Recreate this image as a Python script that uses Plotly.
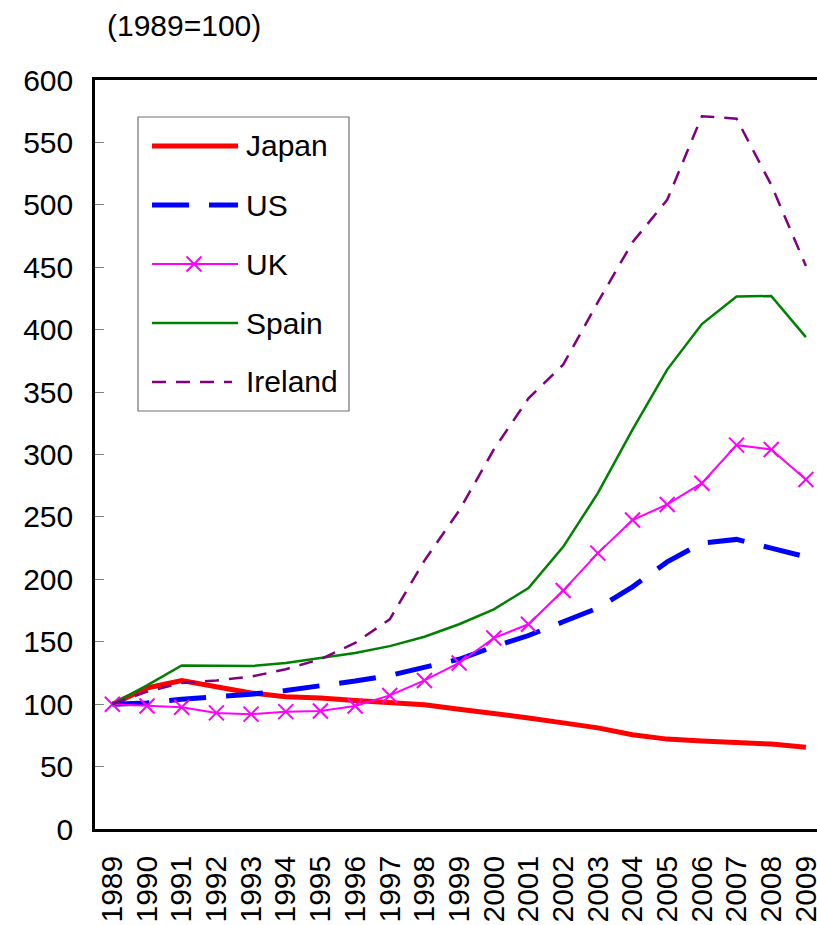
import plotly.graph_objects as go

years = [str(y) for y in range(1989, 2010)]
japan = [100, 113, 119, 114, 109, 106, 105, 103, 101, 99.5, 96, 93, 89, 85, 81, 75.5, 72, 70.5, 69.5, 68, 65.5]
us = [100, 101, 104, 106, 108, 111, 114.5, 118.5, 123, 129, 136, 146, 155, 166, 177, 194, 214, 229, 232, 225, 218]
uk = [100, 98.5, 97.5, 93, 92, 94, 94.5, 98.5, 107, 119, 133, 153, 164, 191, 221, 247.5, 260, 277, 307.5, 304, 280]
spain = [100, 115, 131, 130.5, 130.5, 133, 137, 141, 146.5, 154, 164, 176, 193, 226, 269, 320, 368, 404.5, 426.5, 427, 394]
ireland = [100, 110, 117, 119, 122, 128, 136, 149, 168, 215, 255, 304, 345, 372, 422, 470, 504, 571, 569, 516, 451]
ytick_vals = list(range(0, 601, 50))

FONT = "Liberation Sans, Arial, sans-serif"
FS = 30
W, H = 817, 925
L, R, T, B = 95, 817, 80, 829

fig = go.Figure()
fig.add_trace(go.Scatter(x=years, y=japan, mode="lines", name="Japan",
                         line=dict(color="#FF0000", width=5)))
fig.add_trace(go.Scatter(x=years, y=us, mode="lines", name="US",
                         line=dict(color="#0000FF", width=5, dash="37px,20px")))
fig.add_trace(go.Scatter(x=years, y=uk, mode="lines+markers", name="UK",
                         line=dict(color="#FF00FF", width=2),
                         marker=dict(symbol="x-thin-open", size=15, color="#FF00FF",
                                     line=dict(color="#FF00FF", width=2))))
fig.add_trace(go.Scatter(x=years, y=spain, mode="lines", name="Spain",
                         line=dict(color="#008000", width=2.5)))
fig.add_trace(go.Scatter(x=years, y=ireland, mode="lines", name="Ireland",
                         line=dict(color="#800080", width=2.5, dash="14px,10px")))

def px_x(p):
    return (p - L) / (R - L)

def px_y(p):
    return (B - p) / (B - T)

shapes = []
annotations = []
# custom legend box
shapes.append(dict(type="rect", xref="paper", yref="paper",
                   x0=px_x(138), x1=px_x(349), y0=px_y(411), y1=px_y(117),
                   line=dict(color="#707070", width=1.2), fillcolor="white", layer="above"))
legend_items = [
    ("Japan", 146, dict(color="#FF0000", width=5)),
    ("US", 205, dict(color="#0000FF", width=5, dash="37px,20px")),
    ("UK", 264, dict(color="#FF00FF", width=2)),
    ("Spain", 323, dict(color="#008000", width=2.5)),
    ("Ireland", 382, dict(color="#800080", width=2.5, dash="14px,10px")),
]
for name, yy, ln in legend_items:
    x1 = 238 if name != "Ireland" else 232
    shapes.append(dict(type="line", xref="paper", yref="paper",
                       x0=px_x(152), x1=px_x(x1), y0=px_y(yy), y1=px_y(yy),
                       line=ln, layer="above"))
    annotations.append(dict(text=name, xref="paper", yref="paper",
                            x=px_x(244), y=px_y(yy), xanchor="left", yanchor="middle",
                            showarrow=False, font=dict(size=FS, color="black", family=FONT)))
# UK X marker in legend
cx, cy, s = 194, 264, 7.5
shapes.append(dict(type="line", xref="paper", yref="paper",
                   x0=px_x(cx - s), x1=px_x(cx + s), y0=px_y(cy - s), y1=px_y(cy + s),
                   line=dict(color="#FF00FF", width=2), layer="above"))
shapes.append(dict(type="line", xref="paper", yref="paper",
                   x0=px_x(cx - s), x1=px_x(cx + s), y0=px_y(cy + s), y1=px_y(cy - s),
                   line=dict(color="#FF00FF", width=2), layer="above"))

annotations.append(dict(text="(1989=100)", xref="paper", yref="paper",
                        x=px_x(105), y=px_y(25), xanchor="left", yanchor="middle",
                        showarrow=False, font=dict(size=FS, color="black", family=FONT)))

fig.update_layout(
    width=W, height=H,
    margin=dict(l=L, r=W - R, t=T, b=H - B, pad=0, autoexpand=False),
    paper_bgcolor="white", plot_bgcolor="white",
    showlegend=False,
    shapes=shapes, annotations=annotations,
    font=dict(family=FONT, size=FS, color="black"),
    xaxis=dict(type="category", range=[-0.5, 20.32], showgrid=False, zeroline=False,
               automargin=False, tickmode="array", tickvals=years, ticktext=years,
               showline=True, linecolor="black", linewidth=2.5, mirror=True,
               ticks="", tickangle=-90, tickfont=dict(size=FS, family=FONT),
               ticklabelstandoff=12),
    yaxis=dict(range=[0, 600], tickvals=ytick_vals, showgrid=False, zeroline=False,
               automargin=False,
               showline=True, linecolor="black", linewidth=2.5,
               ticks="inside", ticklen=9, tickcolor="#808080", tickwidth=1,
               tickfont=dict(size=FS, family=FONT), ticklabelstandoff=13),
)

fig.write_html("out.html", config={"displayModeBar": False},
               post_script="document.body.style.margin='0';document.body.style.overflow='hidden';")
